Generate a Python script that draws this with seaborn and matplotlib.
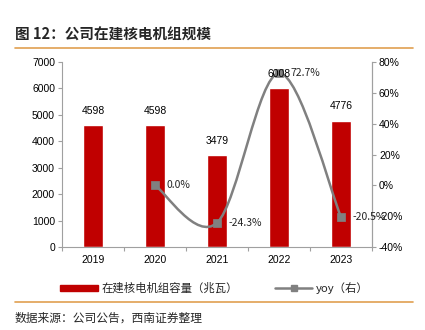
import numpy as np
import pandas as pd
import matplotlib
matplotlib.use("Agg")
import matplotlib.pyplot as plt
from matplotlib.path import Path
from matplotlib.patches import PathPatch, Patch
from matplotlib.lines import Line2D
import seaborn as sns

years = ["2019", "2020", "2021", "2022", "2023"]
capacity = [4598, 4598, 3479, 6008, 4776]
yoy_years = ["2020", "2021", "2022", "2023"]
yoy = [0.0, -24.3, 72.7, -20.5]
left_ticks = [0, 1000, 2000, 3000, 4000, 5000, 6000, 7000]
right_ticks = [-40, -20, 0, 20, 40, 60, 80]

sns.set_theme(style="white")
plt.rcParams['font.family'] = ['Liberation Sans', 'Noto Sans CJK SC', 'DejaVu Sans']
CJK = ['Noto Sans CJK SC', 'DejaVu Sans']

RED = "#C00000"
GRAY = "#808080"
ORANGE = "#E0A050"

fig = plt.figure(figsize=(4.25, 3.3), dpi=100)
ax = fig.add_axes([62/425, 1-247/330, (372-62)/425, (247-62)/330])

df = pd.DataFrame({"year": years, "cap": capacity})
sns.barplot(data=df, x="year", y="cap", color=RED, saturation=1, width=0.32, ax=ax, zorder=2)
ax.set_xlim(-0.5, 4.5)
ax.set_ylim(0, 7000)
ax.set_yticks(left_ticks)
ax.set_xlabel("")
ax.set_ylabel("")
ax.tick_params(axis='y', labelsize=7.5, length=3, width=0.8, color="#A0A0A0", pad=2, left=True, labelcolor="black")
ax.tick_params(axis='x', labelsize=7.5, length=0, pad=6, labelcolor="black")
ax.set_xticks(np.arange(-0.5, 5, 1), minor=True)
ax.tick_params(axis='x', which='minor', length=3, width=0.8, color="#A0A0A0", bottom=True)
ax.spines["top"].set_visible(False)
for s in ["left", "bottom", "right"]:
    ax.spines[s].set_color("#A0A0A0")
    ax.spines[s].set_linewidth(0.8)

ax2 = ax.twinx()
ax2.set_ylim(-40, 80)
ax2.set_yticks(right_ticks)
ax2.set_yticklabels([f"{t}%" for t in right_ticks])
ax2.tick_params(axis='y', labelsize=7.5, length=3, width=0.8, color="#A0A0A0", pad=2, right=True, labelcolor="black")
for s in ["top", "left", "bottom"]:
    ax2.spines[s].set_visible(False)
ax2.spines["right"].set_color("#A0A0A0")
ax2.spines["right"].set_linewidth(0.8)

# smoothed yoy line (Bezier through the data points, drawn in data coordinates)
xs = np.array([years.index(y) for y in yoy_years], dtype=float)
ys = np.array(yoy, dtype=float)
P = np.column_stack([xs, ys])
n = len(P)
verts = [P[0]]
codes = [Path.MOVETO]
for i in range(n - 1):
    p0 = P[i - 1] if i > 0 else P[i]
    p1 = P[i]
    p2 = P[i + 1]
    p3 = P[i + 2] if i + 2 < n else P[i + 1]
    c1 = p1 + (p2 - p0) / 6
    c2 = p2 - (p3 - p1) / 6
    verts += [c1, c2, p2]
    codes += [Path.CURVE4] * 3
ax2.add_patch(PathPatch(Path(verts, codes), fill=False, edgecolor=GRAY, lw=1.8, zorder=3))

ydf = pd.DataFrame({"x": xs, "yoy": ys})
sns.scatterplot(data=ydf, x="x", y="yoy", marker="s", s=40, color=GRAY, edgecolor=GRAY, ax=ax2, zorder=4)
ax2.set_xlabel("")
ax2.set_ylabel("")
ax2.set_xlim(-0.5, 4.5)

for x, v in zip(xs, ys):
    ax2.text(x + 0.19, v, f"{v:.1f}%", ha="left", va="center", fontsize=7.5, family=CJK, zorder=6)

# bar value labels, drawn on the top axes so they sit above the line
for i, v in enumerate(capacity):
    ax2.text(i, v + 360, f"{v}", ha="center", va="bottom", fontsize=7.5, color="black",
             zorder=7, transform=ax.transData)

fig.text(15/425, 1-35/330, "图 12：公司在建核电机组规模", fontsize=10.5, fontweight="bold",
         family=CJK, va="center", ha="left")
fig.add_artist(Line2D([15/425, 413/425], [1-48/330, 1-48/330], color=ORANGE, lw=1.2))
fig.add_artist(Line2D([15/425, 413/425], [1-302/330, 1-302/330], color=ORANGE, lw=1.2))
fig.text(15/425, 1-318/330, "数据来源：公司公告，西南证券整理", fontsize=8.5, family=CJK,
         va="center", ha="left", style="italic")

handles = [Patch(facecolor=RED, edgecolor=RED),
           Line2D([0], [0], color=GRAY, lw=1.8, marker="s", markersize=5)]
labels = ["在建核电机组容量（兆瓦）", "yoy（右）"]
leg = fig.legend(handles, labels, loc="center", bbox_to_anchor=(0.505, 1-288/330), ncol=2,
                 frameon=False, prop={'family': CJK, 'size': 8.2}, handlelength=3.3,
                 handleheight=0.5, columnspacing=3.2, handletextpad=0.35)

fig.savefig("out.png", dpi=100)
